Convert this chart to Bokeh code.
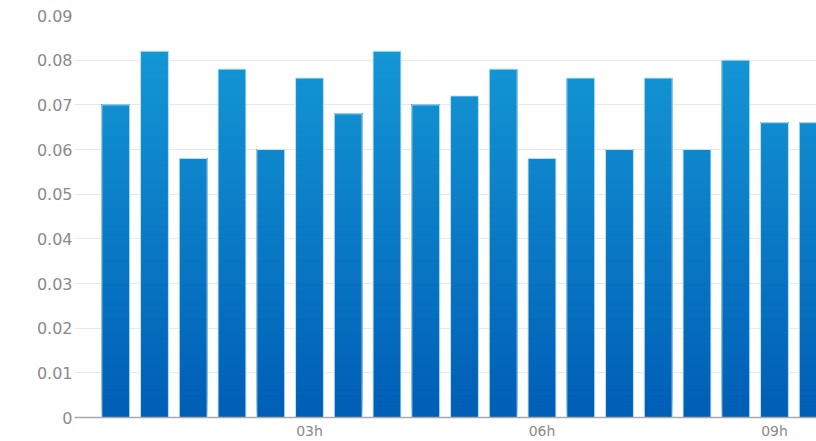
from bokeh.plotting import figure
from bokeh.models import ColumnDataSource, FixedTicker, Range1d
from bokeh.embed import file_html
from bokeh.resources import INLINE

# Half-hourly readings
hours = [0.5, 1.0, 1.5, 2.0, 2.5, 3.0, 3.5, 4.0, 4.5, 5.0,
         5.5, 6.0, 6.5, 7.0, 7.5, 8.0, 8.5, 9.0, 9.5]
values = [0.070, 0.082, 0.058, 0.078, 0.060, 0.076, 0.068, 0.082, 0.070, 0.072,
          0.078, 0.058, 0.076, 0.060, 0.076, 0.060, 0.080, 0.066, 0.066]

x_ticks = [3, 6, 9]
x_tick_labels = ["03h", "06h", "09h"]
y_ticks = [0.0, 0.01, 0.02, 0.03, 0.04, 0.05, 0.06, 0.07, 0.08, 0.09]
y_tick_labels = ["0", "0.01", "0.02", "0.03", "0.04", "0.05", "0.06", "0.07", "0.08", "0.09"]

Y_MAX = 0.09
BAR_W = 0.36
STEP = 0.0005
TOP_RGB = (22, 156, 216)
BOTTOM_RGB = (0, 94, 182)


def shade(y):
    t = max(0.0, min(1.0, y / Y_MAX))
    r, g, b = (round(lo + (hi - lo) * t) for lo, hi in zip(BOTTOM_RGB, TOP_RGB))
    return "#%02x%02x%02x" % (r, g, b)


# Each bar is a stack of overlapping layers, every layer running from its own
# start height up to the bar's value; later layers paint over earlier ones,
# which gives a vertical gradient without seams.
left, right, bottom, top, color = [], [], [], [], []
for h, v in zip(hours, values):
    y0 = 0.0
    while y0 < v - 1e-12:
        y1 = min(y0 + STEP, v)
        left.append(h - BAR_W / 2)
        right.append(h + BAR_W / 2)
        bottom.append(y0)
        top.append(v)
        color.append(shade((y0 + y1) / 2))
        y0 = y1

layers = ColumnDataSource(dict(left=left, right=right, bottom=bottom, top=top, color=color))
bars = ColumnDataSource(dict(x=hours, top=values))

p = figure(width=816, height=441, output_backend="svg", toolbar_location=None,
           x_range=Range1d(-0.032, 9.542), y_range=Range1d(0, Y_MAX),
           min_border_left=74, min_border_right=0, min_border_top=15, min_border_bottom=23)
p.outline_line_color = None
p.background_fill_color = "white"
p.border_fill_color = "white"

p.quad(left="left", right="right", bottom="bottom", top="top", source=layers,
       fill_color="color", line_color=None)
p.vbar(x="x", top="top", width=BAR_W, bottom=0, source=bars,
       fill_color=None, line_color="#c4e6f8", line_width=1)

p.xgrid.visible = False
p.ygrid.grid_line_color = "#e8e8e8"
p.ygrid.grid_line_width = 1

p.yaxis.ticker = FixedTicker(ticks=y_ticks)
p.yaxis.major_label_overrides = dict(zip(y_ticks, y_tick_labels))
p.yaxis.axis_line_color = None
p.yaxis.major_tick_line_color = None
p.yaxis.minor_tick_line_color = None
p.yaxis.major_tick_out = 0
p.yaxis.major_tick_in = 0
p.yaxis.minor_tick_out = 0
p.yaxis.major_label_standoff = 2
p.yaxis.major_label_text_font = "DejaVu Sans"
p.yaxis.major_label_text_font_size = "16px"
p.yaxis.major_label_text_color = "#8a8a8a"

p.xaxis.ticker = FixedTicker(ticks=x_ticks)
p.xaxis.major_label_overrides = dict(zip(x_ticks, x_tick_labels))
p.xaxis.axis_line_color = "#a9a9a9"
p.xaxis.axis_line_width = 1.5
p.xaxis.major_tick_line_color = None
p.xaxis.minor_tick_line_color = None
p.xaxis.major_tick_out = 0
p.xaxis.major_tick_in = 0
p.xaxis.minor_tick_out = 0
p.xaxis.major_label_standoff = 5
p.xaxis.major_label_text_font = "DejaVu Sans"
p.xaxis.major_label_text_font_size = "14px"
p.xaxis.major_label_text_color = "#8a8a8a"

open("out.html", "w").write(file_html(p, INLINE))
